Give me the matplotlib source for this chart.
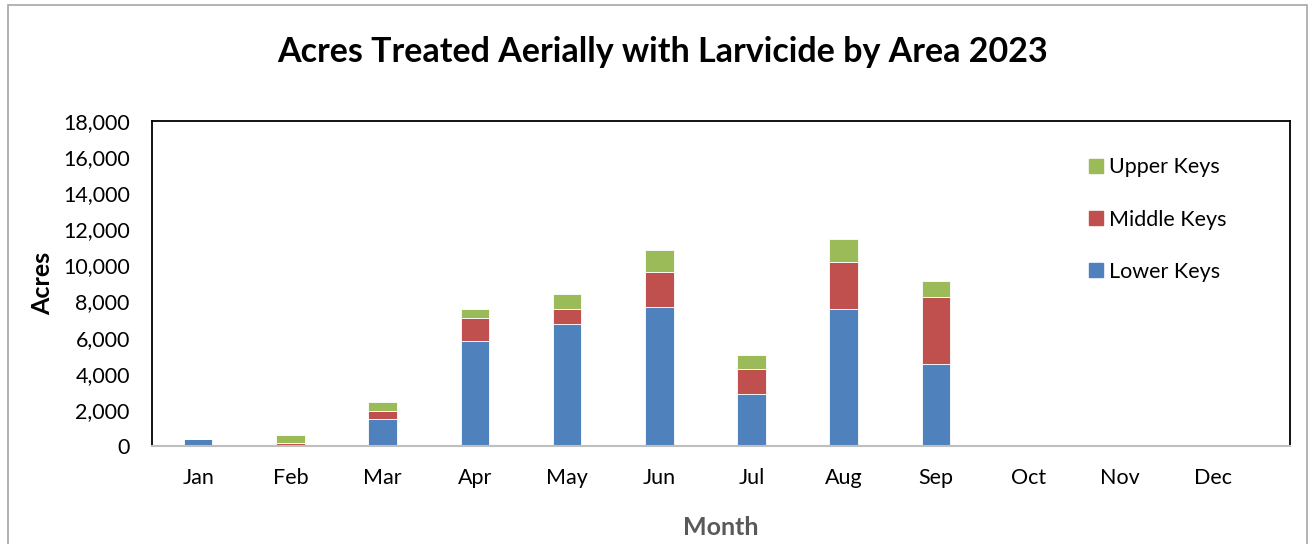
import numpy as np
import matplotlib.pyplot as plt
from matplotlib.patches import Patch, Rectangle
from matplotlib.ticker import FuncFormatter

plt.rcParams['font.family'] = ['Lato', 'DejaVu Sans']

months = ["Jan", "Feb", "Mar", "Apr", "May", "Jun",
          "Jul", "Aug", "Sep", "Oct", "Nov", "Dec"]
lower_keys = [370, 70, 1510, 5810, 6770, 7680, 2880, 7570, 4560, 0, 0, 0]
middle_keys = [0, 110, 430, 1260, 830, 1970, 1400, 2640, 3710, 0, 0, 0]
upper_keys = [0, 410, 500, 500, 820, 1220, 780, 1250, 880, 0, 0, 0]

c_lower = "#4F81BD"
c_middle = "#C0504D"
c_upper = "#9BBB59"

fig = plt.figure(figsize=(13.12, 5.44), dpi=100)
ax = fig.add_axes([0.1159, 0.1801, 0.8673, 0.5975])

x = np.arange(len(months))
w = 0.31
lo = np.array(lower_keys)
mi = np.array(middle_keys)
up = np.array(upper_keys)
ax.bar(x, lo, w, color=c_lower, edgecolor="white", linewidth=0.6)
ax.bar(x, mi, w, bottom=lo, color=c_middle, edgecolor="white", linewidth=0.6)
ax.bar(x, up, w, bottom=lo + mi, color=c_upper, edgecolor="white", linewidth=0.6)

# plot frame is wider than the category area (legend sits inside it)
ax.set_xlim(-0.5, len(months) - 0.16)
ax.set_ylim(0, 18000)
ax.set_yticks(np.arange(0, 18001, 2000))
ax.yaxis.set_major_formatter(FuncFormatter(lambda v, p: f"{int(v):,}"))
ax.set_xticks(x)
ax.set_xticklabels(months)
ax.tick_params(axis="both", length=0, labelsize=15.5, colors="black")
ax.tick_params(axis="x", pad=16)
ax.tick_params(axis="y", pad=16)

for s in ["top", "right", "left"]:
    ax.spines[s].set_color("black")
    ax.spines[s].set_linewidth(1.3)
ax.spines["bottom"].set_color("#BFBFBF")
ax.spines["bottom"].set_linewidth(1.5)

ax.set_ylabel("Acres", fontsize=18, fontweight="bold", labelpad=6)
ax.set_xlabel("Month", fontsize=18, fontweight="bold", color="#595959", labelpad=20)
fig.text(0.505, 0.905, "Acres Treated Aerially with Larvicide by Area 2023",
         ha="center", va="center", fontsize=24.5, fontweight="bold")

handles = [Patch(color=c_upper), Patch(color=c_middle), Patch(color=c_lower)]
ax.legend(handles, ["Upper Keys", "Middle Keys", "Lower Keys"],
          loc="upper left", bbox_to_anchor=(0.806, 0.948), frameon=False,
          fontsize=15.5, labelspacing=1.5, handlelength=0.65, handleheight=0.65,
          handletextpad=0.3)

fig.patches.append(Rectangle((0.006, -0.01), 0.99, 1.0, transform=fig.transFigure,
                             fill=False, edgecolor="#A6A6A6", linewidth=1.2))

fig.savefig("out.png", dpi=100)
